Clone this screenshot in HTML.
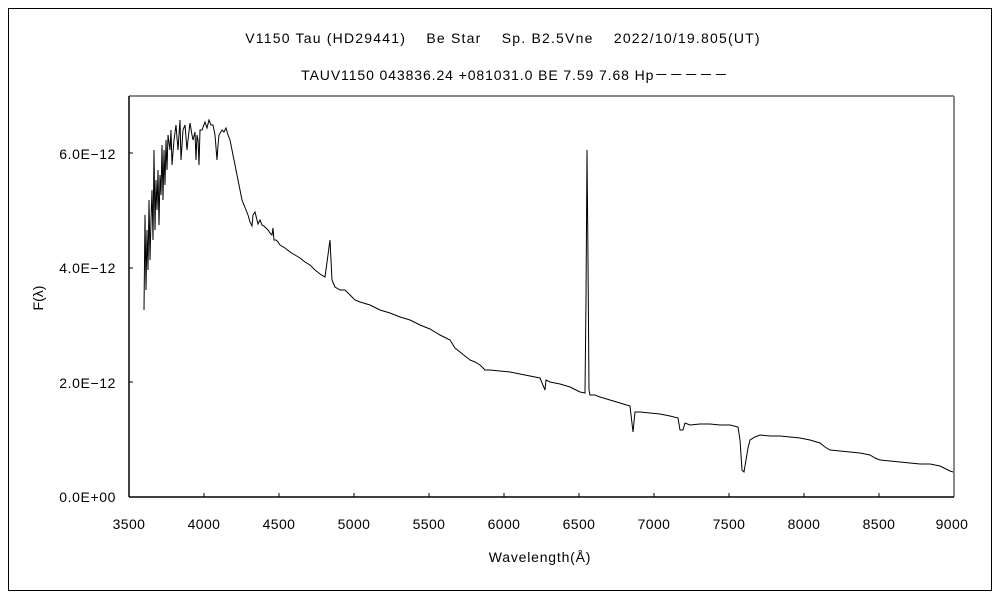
<!DOCTYPE html>
<html><head><meta charset="utf-8"><style>
body{margin:0;background:#fff;}
svg text{font-family:"Liberation Sans","Noto Sans CJK JP",sans-serif;font-size:14px;fill:#000;}
</style></head><body>
<svg width="1000" height="600" viewBox="0 0 1000 600" xmlns="http://www.w3.org/2000/svg">
<rect x="8.5" y="8.5" width="983" height="582" fill="#fff" stroke="#000" stroke-width="1"/>
<text x="503" y="43" text-anchor="middle" letter-spacing="1.2">V1150 Tau (HD29441)　 Be Star　 Sp. B2.5Vne　 2022/10/19.805(UT)</text>
<text x="515" y="80" text-anchor="middle" letter-spacing="0.9">TAUV1150 043836.24 +081031.0 BE 7.59 7.68 Hp－－－－－</text>
<line x1="129" y1="96" x2="954" y2="96" stroke="#888" stroke-width="2"/>
<line x1="954" y1="96" x2="954" y2="497" stroke="#888" stroke-width="2"/>
<line x1="129" y1="96" x2="129" y2="497" stroke="#000" stroke-width="1.5"/>
<line x1="129" y1="497" x2="954" y2="497" stroke="#000" stroke-width="1.5"/>
<g stroke="#000" stroke-width="1">
<line x1="204" y1="497" x2="204" y2="493"/><line x1="279" y1="497" x2="279" y2="493"/><line x1="354" y1="497" x2="354" y2="493"/><line x1="429" y1="497" x2="429" y2="493"/><line x1="504" y1="497" x2="504" y2="493"/><line x1="579" y1="497" x2="579" y2="493"/><line x1="654" y1="497" x2="654" y2="493"/><line x1="729" y1="497" x2="729" y2="493"/><line x1="804" y1="497" x2="804" y2="493"/><line x1="879" y1="497" x2="879" y2="493"/>
<line x1="129" y1="382" x2="133" y2="382"/><line x1="129" y1="268" x2="133" y2="268"/><line x1="129" y1="153" x2="133" y2="153"/>
</g>
<g text-anchor="end" letter-spacing="0.6">
<text x="116" y="502">0.0E+00</text>
<text x="116" y="388">2.0E−12</text>
<text x="116" y="273">4.0E−12</text>
<text x="116" y="159">6.0E−12</text>
</g>
<g text-anchor="middle" letter-spacing="0.4">
<text x="129" y="529">3500</text><text x="204" y="529">4000</text><text x="279" y="529">4500</text><text x="354" y="529">5000</text><text x="429" y="529">5500</text><text x="504" y="529">6000</text><text x="579" y="529">6500</text><text x="654" y="529">7000</text><text x="729" y="529">7500</text><text x="804" y="529">8000</text><text x="879" y="529">8500</text><text x="952" y="529">9000</text>
<text x="540" y="562" letter-spacing="0.8">Wavelength(Å)</text>
</g>
<text x="43" y="298" text-anchor="middle" transform="rotate(-90 43 298)">F(λ)</text>
<polyline fill="none" stroke="#000" stroke-width="1" points="144,310 145,215 146,290 147,230 148,270 149,200 150,260 151,220 152,190 153,240 154,150 155,230 156,180 157,210 158,170 159,225 160,175 161,195 162,145 163,200 164,150 165,185 166,140 167,170 168,135 170,150 171,130 172,165 174,140 176,125 178,150 180,120 181,160 183,130 185,125 187,150 188,140 190,123 192,135 193,140 195,132 196,160 197,135 198,140 199,165 200,130 202,130 205,122 207,128 209,120 211,125 213,125 215,135 217,160 218,145 219,135 222,130 224,132 226,128 228,135 230,140 232,150 234,160 236,170 238,180 240,190 242,200 244,205 246,210 248,215 250,222 252,226 253,215 255,212 257,220 258,224 260,220 262,225 264,226 266,228 268,230 270,233 272,235 273,228 274,240 276,240 278,242 280,245 285,248 290,252 295,255 300,258 305,262 310,265 315,270 320,274 325,277 330,240 331,260 332,280 335,287 340,290 345,290 350,295 355,300 360,302 370,305 380,310 390,313 400,317 410,320 420,325 430,329 440,335 450,340 455,348 460,352 465,356 470,360 475,362 480,365 485,370 490,370 500,371 510,372 520,374 530,376 540,378 545,390 546,380 550,382 560,384 570,387 580,392 585,393 586,300 587,150 588,260 589,390 590,395 595,395 600,397 610,400 620,403 630,406 633,432 635,412 640,412 650,413 660,414 670,416 678,418 680,430 683,430 685,423 690,425 700,424 710,424 720,425 730,425 738,427 740,440 742,470 744,472 746,460 748,448 750,440 755,437 760,435 770,436 780,436 790,437 800,438 810,440 820,443 825,447 830,450 840,451 850,452 860,453 870,455 875,458 880,460 890,461 900,462 910,463 920,464 930,464 940,466 950,471 953,472"/>
</svg>
</body></html>
